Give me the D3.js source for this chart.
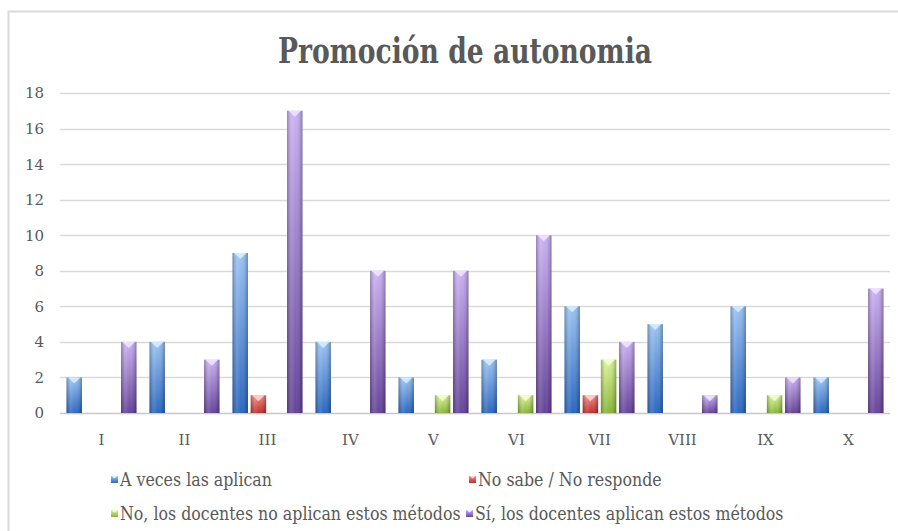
<!DOCTYPE html>
<html>
<head>
<meta charset="utf-8">
<script src="https://cdn.jsdelivr.net/npm/d3@7"></script>
<style>
  body { margin: 0; background: #fff; overflow: hidden; }
  svg { display: block; overflow: hidden; }
  text { font-family: "DejaVu Serif", serif; fill: #595959; }
</style>
</head>
<body>
<svg id="chart" width="898" height="531"></svg>
<script>
// data
const categories = ['I', 'II', 'III', 'IV', 'V', 'VI', 'VII', 'VIII', 'IX', 'X'];
const seriesNames = [
  'A veces las aplican',
  'No sabe / No responde',
  'No, los docentes no aplican estos métodos',
  'Sí, los docentes aplican estos métodos'
];
const aVeces    = [2, 4, 9, 4, 2, 3, 6, 5, 6, 2];
const noSabe    = [0, 0, 1, 0, 0, 0, 1, 0, 0, 0];
const noAplican = [0, 0, 0, 0, 1, 1, 3, 0, 1, 0];
const siAplican = [4, 3, 17, 8, 8, 10, 4, 1, 2, 7];
const yTicks = [0, 2, 4, 6, 8, 10, 12, 14, 16, 18];
const titleText = 'Promoción de autonomia';

const seriesValues = [aVeces, noSabe, noAplican, siAplican];
// light top, dark bottom, chevron tint
const palette = [
  ['#9cc3f2', '#2c68c0', '#d8f0ff'],
  ['#f28a86', '#c0302c', '#ffd8d8'],
  ['#dcf29a', '#88b63a', '#f4ffd8'],
  ['#cbb2f2', '#66459a', '#f2e8ff']
];

const svg = d3.select('#chart');
const defs = svg.append('defs');

const plotLeft = 60, plotRight = 890, plotBottom = 413, plotTop = 93;

// chart frame: only its left and top edges fall inside the window
svg.append('path')
  .attr('d', 'M8.5,531V11.5H898')
  .attr('fill', 'none')
  .attr('stroke', '#d9d9d9')
  .attr('stroke-width', 2);

palette.forEach((p, i) => {
  const g = defs.append('linearGradient')
    .attr('id', 'vg' + i)
    .attr('x1', 0).attr('y1', 0).attr('x2', 0).attr('y2', 1);
  g.append('stop').attr('offset', '0%').attr('stop-color', p[0]);
  g.append('stop').attr('offset', '100%').attr('stop-color', p[1]);
});

// side shading to get the rounded look
const hg = defs.append('linearGradient')
  .attr('id', 'hshade')
  .attr('x1', 0).attr('y1', 0).attr('x2', 1).attr('y2', 0);
[[0, '#000', 0.28], [0.3, '#fff', 0.12], [0.55, '#fff', 0.0], [0.85, '#000', 0.12], [1, '#000', 0.3]]
  .forEach(s => hg.append('stop').attr('offset', s[0]).attr('stop-color', s[1]).attr('stop-opacity', s[2]));

const y = d3.scaleLinear().domain([0, 18]).range([plotBottom, plotTop]);
const x0 = d3.scaleBand().domain(categories).range([plotLeft, plotRight]);
const x1 = d3.scaleBand().domain(d3.range(4))
  .range([6.5, x0.bandwidth() - 6.5])
  .paddingInner(0.15);

// gridlines
svg.append('g')
  .selectAll('line')
  .data(yTicks)
  .join('line')
  .attr('x1', plotLeft).attr('x2', plotRight)
  .attr('y1', d => Math.round(y(d)) + 0.5)
  .attr('y2', d => Math.round(y(d)) + 0.5)
  .attr('stroke', d => d === 0 ? '#c8c8c8' : '#d9d9d9')
  .attr('stroke-width', 1.5);

// y labels
svg.append('g')
  .selectAll('text')
  .data(yTicks)
  .join('text')
  .attr('x', 44)
  .attr('y', d => y(d))
  .attr('dy', '0.36em')
  .attr('text-anchor', 'end')
  .style('font-size', '15px')
  .text(d => d);

// x labels
svg.append('g')
  .selectAll('text')
  .data(categories)
  .join('text')
  .attr('x', d => x0(d) + x0.bandwidth() / 2)
  .attr('y', 445)
  .attr('text-anchor', 'middle')
  .style('font-size', '15px')
  .text(d => d);

// bars
const bars = [];
categories.forEach((c, ci) => {
  seriesValues.forEach((vals, si) => {
    if (vals[ci] > 0) bars.push({ c: c, s: si, v: vals[ci] });
  });
});

const barG = svg.append('g')
  .selectAll('g')
  .data(bars)
  .join('g')
  .attr('transform', d => `translate(${x0(d.c) + x1(d.s)},0)`);

barG.append('rect')
  .attr('x', 0)
  .attr('y', d => y(d.v))
  .attr('width', x1.bandwidth())
  .attr('height', d => y(0) - y(d.v))
  .attr('fill', d => `url(#vg${d.s})`);

barG.append('rect')
  .attr('x', 0)
  .attr('y', d => y(d.v))
  .attr('width', x1.bandwidth())
  .attr('height', d => y(0) - y(d.v))
  .attr('fill', 'url(#hshade)');

barG.append('path')
  .attr('d', d => {
    const w = x1.bandwidth(), t = y(d.v);
    return `M1.5,${t}L${w - 1.5},${t}L${w / 2},${t + 6}Z`;
  })
  .attr('fill', d => palette[d.s][2])
  .attr('opacity', 0.85);

// title
svg.append('text')
  .attr('x', 465)
  .attr('y', 63)
  .attr('text-anchor', 'middle')
  .style('font-size', '36px')
  .style('font-weight', 'bold')
  .attr('textLength', 374)
  .attr('lengthAdjust', 'spacingAndGlyphs')
  .text(titleText);

// legend
const legendPos = [
  { x: 111, y: 486 },
  { x: 469, y: 486 },
  { x: 111, y: 520 },
  { x: 466, y: 520 }
];
const legendSqueeze = 0.88;

const leg = svg.append('g')
  .selectAll('g')
  .data(seriesNames)
  .join('g')
  .attr('transform', (d, i) => `translate(${legendPos[i].x},${legendPos[i].y})`);

leg.append('rect')
  .attr('x', 0).attr('y', -10)
  .attr('width', 7).attr('height', 7)
  .attr('fill', (d, i) => `url(#vg${i})`);

leg.append('path')
  .attr('d', 'M0.5,-10L6.5,-10L3.5,-7.5Z')
  .attr('fill', (d, i) => palette[i][2]);

leg.append('text')
  .attr('transform', `translate(9,0) scale(${legendSqueeze},1)`)
  .style('font-size', '18px')
  .text(d => d);
</script>
</body>
</html>
